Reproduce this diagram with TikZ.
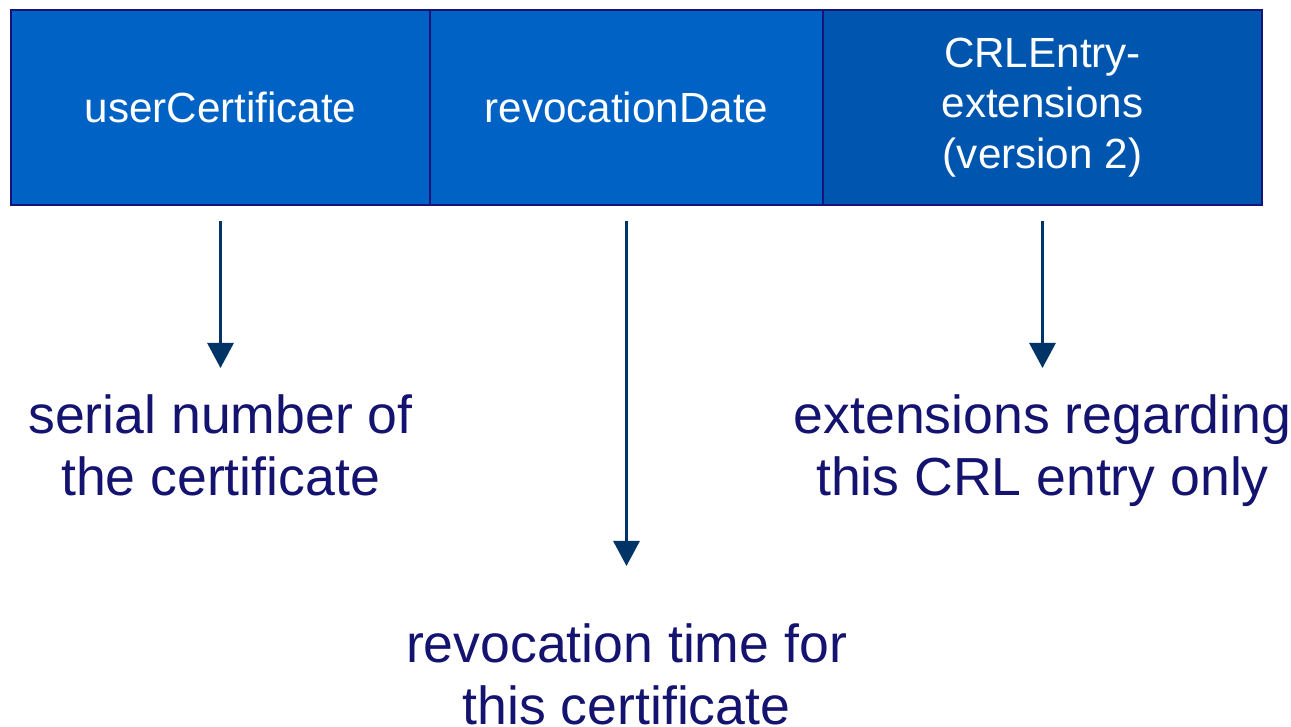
\documentclass[tikz,border=0pt]{standalone}
\usepackage{fontspec}
\setmainfont{Liberation Sans}
\usetikzlibrary{arrows.meta}

\definecolor{fieldblue}{HTML}{0062C4}
\definecolor{extblue}{HTML}{0055AE}
\definecolor{fieldline}{HTML}{14147A}
\definecolor{arrowblue}{HTML}{003366}
\definecolor{labelnavy}{HTML}{141470}

\tikzset{
    field/.style={draw=fieldline, line width=1.2pt, fill=fieldblue, text=white, minimum height=3.9cm, inner sep=0pt, align=center, font=\fontsize{24}{28.7}\selectfont},
    note/.style={text=labelnavy, anchor=north, inner sep=0pt, align=center, font=\fontsize{30.5}{35.5}\selectfont},
    pointer/.style={draw=arrowblue, line width=1.7pt, -{Triangle[width=0.52cm,length=0.5cm]}, shorten <=0.3cm}
}

\begin{document}
\begin{tikzpicture}
        \useasboundingbox (0,0) rectangle (25.82,14.54);

        \node[field, minimum width=8.38cm] (usercert) at (4.41,12.39) {userCertificate};
        \node[field, minimum width=7.86cm] (revdate) at (12.53,12.39) {revocationDate};
        \node[field, fill=extblue, minimum width=8.78cm] (entryext) at (20.85,12.39) {CRLEntry-\\extensions\\(version 2)};

        \node[note] (serial) at (4.41,6.66) {serial number of\\the certificate};
        \node[note] (revtime) at (12.53,2.08) {revocation time for\\this certificate};
        \node[note] (extonly) at (20.85,6.66) {extensions regarding\\this CRL entry only};

        \draw[pointer, shorten >=0.52cm] (usercert.south) -- (serial.north);
        \draw[pointer, shorten >=1.14cm] (revdate.south) -- (revtime.north);
        \draw[pointer, shorten >=0.52cm] (entryext.south) -- (extonly.north);

    \end{tikzpicture}
\end{document}
